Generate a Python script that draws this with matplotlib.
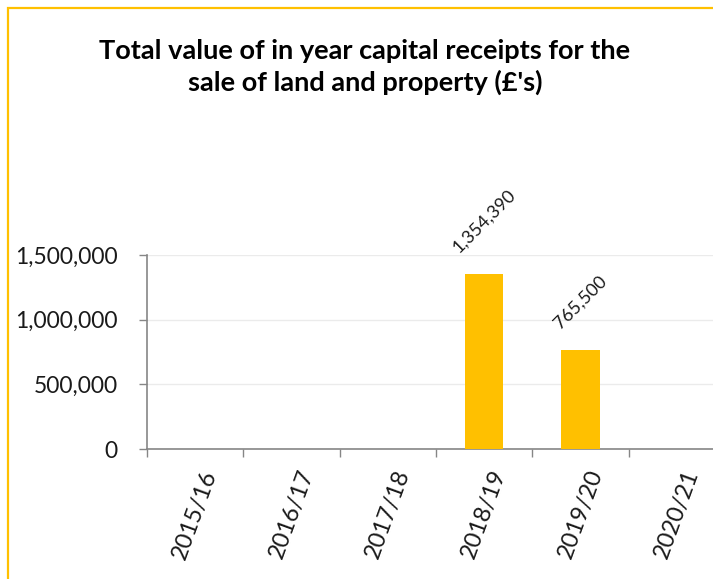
import matplotlib.pyplot as plt
import matplotlib.transforms as mtransforms
from matplotlib.patches import Rectangle

plt.rcParams["font.family"] = ["Lato", "DejaVu Sans"]

years = ["2015/16", "2016/17", "2017/18", "2018/19", "2019/20", "2020/21"]
receipts = [0, 0, 0, 1354390, 765500, 0]
labels = ["", "", "", "1,354,390", "765,500", ""]

W, H = 713, 579
fig = plt.figure(figsize=(W / 100, H / 100), dpi=100)

# gold chart border (cut off on the right and bottom)
fig.patches.append(Rectangle((8 / W, -0.1), 1.2, 1 - 8 / H + 0.1,
                             transform=fig.transFigure, fill=False,
                             edgecolor="#FFC000", linewidth=1.6))

ax = fig.add_axes([147 / W, 1 - 449 / H, (W - 147) / W, (449 - 255) / H])
x = list(range(len(years)))
ax.bar(x, receipts, width=0.4, color="#FFC000", zorder=3)

for xi, v, lab in zip(x, receipts, labels):
    if lab:
        ax.annotate(lab, (xi, v), xytext=(0, 13), textcoords="offset points",
                    rotation=45, ha="center", va="bottom", fontsize=13,
                    color="#1a1a1a")

ax.set_xlim(-0.5, -0.5 + (W - 147) / 96.3)
ax.set_ylim(0, 1500000)
ax.set_yticks([0, 500000, 1000000, 1500000])
ax.set_yticklabels(["0", "500,000", "1,000,000", "1,500,000"])
ax.tick_params(axis="y", length=6, width=1, color="#868686",
               labelsize=16.5, labelcolor="#1a1a1a", pad=15)

ax.set_xticks([i - 0.5 for i in range(len(years))])
ax.set_xticklabels([])
ax.set_xticks(x, minor=True)
ax.set_xticklabels(years, minor=True, rotation=70, ha="right",
                   rotation_mode="anchor", fontsize=17, color="#1a1a1a")
ax.tick_params(axis="x", which="major", length=6, width=1, color="#868686")
ax.tick_params(axis="x", which="minor", length=0, pad=13)

# nudge the rotated year labels a little to the right
shift = mtransforms.ScaledTranslation(6 / 100, 0, fig.dpi_scale_trans)
for t in ax.get_xticklabels(minor=True):
    t.set_transform(t.get_transform() + shift)

ax.grid(axis="y", color="#EBEBEB", linewidth=1, zorder=0)
for s in ["top", "right"]:
    ax.spines[s].set_visible(False)
for s in ["left", "bottom"]:
    ax.spines[s].set_color("#868686")
    ax.spines[s].set_linewidth(1.2)

fig.text(365 / W, 1 - 67 / H,
         "Total value of in year capital receipts for the\nsale of land and property (£'s)",
         ha="center", va="center", fontsize=19.5, fontweight="bold",
         linespacing=1.35, color="black")

fig.savefig("out.png", dpi=100)
